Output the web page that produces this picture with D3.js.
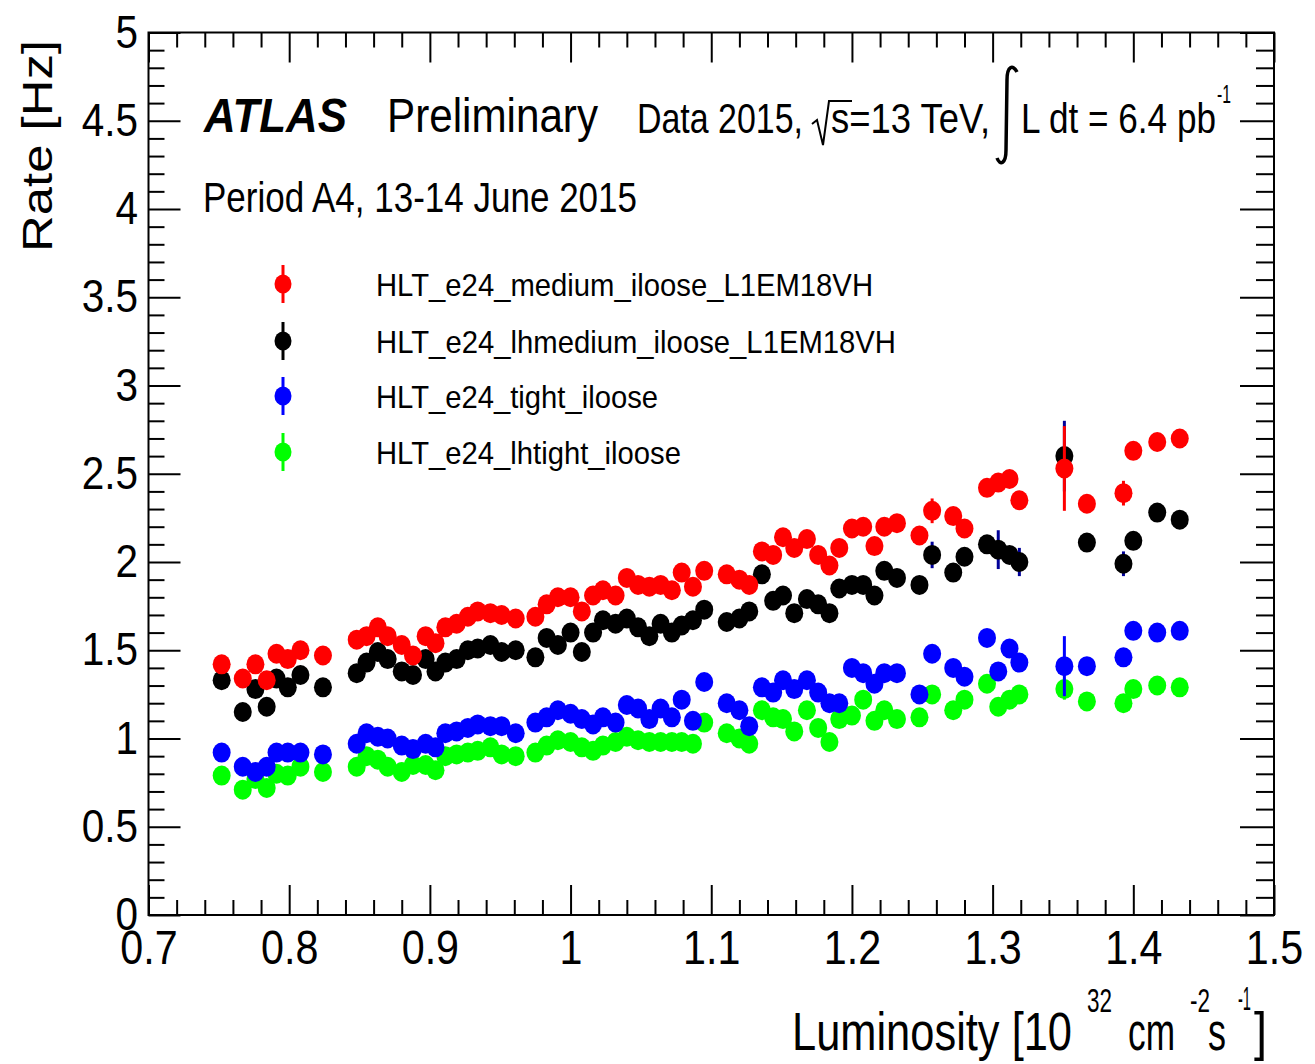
<!DOCTYPE html>
<html>
<head>
<meta charset="utf-8">
<script src="https://cdn.jsdelivr.net/npm/d3@7"></script>
<style>
  body { margin: 0; background: #fff; }
  text { font-family: 'Liberation Sans', Arial, Helvetica, sans-serif; fill: #000; }
</style>
</head>
<body>
<div id="chart"></div>
<script>
// Luminosity bins [10^32 cm^-2 s^-1]
const lumi = [0.752, 0.767, 0.776, 0.784, 0.791, 0.799, 0.808, 0.824,
  0.848, 0.855, 0.863, 0.870, 0.880, 0.888, 0.897, 0.904,
  0.911, 0.919, 0.927, 0.934, 0.943, 0.951, 0.961,
  0.975, 0.983, 0.991, 1.000, 1.008, 1.016, 1.023, 1.032, 1.040, 1.048, 1.056, 1.064, 1.072, 1.079, 1.087, 1.095,
  1.111, 1.120, 1.127, 1.136, 1.144, 1.151, 1.159, 1.168, 1.176, 1.184, 1.191, 1.200, 1.208, 1.216, 1.223, 1.232,
  1.248, 1.257, 1.272, 1.280, 1.296, 1.304, 1.312, 1.319,
  1.351, 1.367, 1.393, 1.400, 1.417, 1.433];

// Rates [Hz]
const rateMedium = [1.42, 1.34, 1.42, 1.33, 1.48, 1.45, 1.50, 1.47,
  1.56, 1.58, 1.63, 1.58, 1.53, 1.47, 1.58, 1.54,
  1.63, 1.65, 1.69, 1.72, 1.71, 1.70, 1.68,
  1.69, 1.76, 1.80, 1.80, 1.72, 1.81, 1.84, 1.81, 1.91, 1.87, 1.86, 1.87, 1.84, 1.94, 1.86, 1.95,
  1.93, 1.90, 1.87, 2.06, 2.04, 2.14, 2.08, 2.13, 2.04, 1.98, 2.08, 2.19, 2.20, 2.09, 2.20, 2.22,
  2.15, 2.29, 2.26, 2.19, 2.42, 2.45, 2.47, 2.35,
  2.53, 2.33, 2.39, 2.63, 2.68, 2.70];
const errMedium = [0.03, 0.03, 0.03, 0.03, 0.03, 0.03, 0.03, 0.03,
  0.03, 0.03, 0.03, 0.03, 0.03, 0.03, 0.03, 0.03,
  0.03, 0.03, 0.03, 0.03, 0.03, 0.03, 0.03,
  0.03, 0.03, 0.03, 0.03, 0.03, 0.03, 0.03, 0.03, 0.03, 0.03, 0.03, 0.03, 0.03, 0.03, 0.03, 0.03,
  0.03, 0.03, 0.03, 0.03, 0.03, 0.03, 0.03, 0.03, 0.03, 0.03, 0.03, 0.03, 0.03, 0.03, 0.03, 0.03,
  0.03, 0.07, 0.04, 0.04, 0.04, 0.04, 0.04, 0.04,
  0.24, 0.05, 0.07, 0.04, 0.04, 0.04];

const rateLhMedium = [1.33, 1.15, 1.28, 1.18, 1.34, 1.29, 1.36, 1.29,
  1.37, 1.43, 1.49, 1.45, 1.38, 1.36, 1.45, 1.38,
  1.43, 1.45, 1.50, 1.51, 1.53, 1.49, 1.50,
  1.46, 1.57, 1.53, 1.60, 1.49, 1.60, 1.67, 1.65, 1.68, 1.63, 1.58, 1.65, 1.60, 1.64, 1.67, 1.73,
  1.66, 1.68, 1.72, 1.93, 1.78, 1.81, 1.71, 1.79, 1.76, 1.71, 1.85, 1.87, 1.87, 1.81, 1.95, 1.91,
  1.87, 2.04, 1.94, 2.03, 2.10, 2.07, 2.04, 2.00,
  2.60, 2.11, 1.99, 2.12, 2.28, 2.24];
const errLhMedium = [0.03, 0.03, 0.03, 0.03, 0.03, 0.03, 0.03, 0.03,
  0.03, 0.03, 0.03, 0.03, 0.03, 0.03, 0.03, 0.03,
  0.03, 0.03, 0.03, 0.03, 0.03, 0.03, 0.03,
  0.03, 0.03, 0.03, 0.03, 0.03, 0.03, 0.03, 0.03, 0.03, 0.03, 0.03, 0.03, 0.03, 0.03, 0.03, 0.03,
  0.03, 0.03, 0.03, 0.03, 0.03, 0.03, 0.03, 0.03, 0.03, 0.03, 0.03, 0.03, 0.03, 0.03, 0.03, 0.03,
  0.03, 0.075, 0.04, 0.04, 0.04, 0.11, 0.04, 0.08,
  0.2, 0.05, 0.07, 0.04, 0.04, 0.04];

const rateTight = [0.92, 0.84, 0.81, 0.84, 0.92, 0.92, 0.92, 0.91,
  0.97, 1.03, 1.01, 1.00, 0.96, 0.94, 0.97, 0.95,
  1.03, 1.04, 1.06, 1.08, 1.07, 1.07, 1.03,
  1.09, 1.12, 1.16, 1.14, 1.11, 1.08, 1.12, 1.09, 1.19, 1.17, 1.11, 1.17, 1.12, 1.22, 1.10, 1.32,
  1.20, 1.16, 1.07, 1.29, 1.26, 1.33, 1.28, 1.33, 1.26, 1.20, 1.20, 1.40, 1.37, 1.31, 1.37, 1.37,
  1.25, 1.48, 1.40, 1.35, 1.57, 1.38, 1.51, 1.43,
  1.41, 1.41, 1.46, 1.61, 1.60, 1.61];
const errTight = [0.03, 0.03, 0.03, 0.03, 0.03, 0.03, 0.03, 0.03,
  0.03, 0.03, 0.03, 0.03, 0.03, 0.03, 0.03, 0.03,
  0.03, 0.03, 0.03, 0.03, 0.03, 0.03, 0.03,
  0.03, 0.03, 0.03, 0.03, 0.03, 0.03, 0.03, 0.03, 0.03, 0.03, 0.03, 0.03, 0.03, 0.03, 0.03, 0.03,
  0.03, 0.03, 0.03, 0.03, 0.03, 0.03, 0.03, 0.03, 0.03, 0.03, 0.03, 0.03, 0.03, 0.03, 0.03, 0.03,
  0.03, 0.04, 0.04, 0.04, 0.04, 0.04, 0.04, 0.04,
  0.17, 0.04, 0.04, 0.04, 0.04, 0.04];

const rateLhTight = [0.79, 0.71, 0.77, 0.72, 0.80, 0.79, 0.84, 0.81,
  0.84, 0.90, 0.88, 0.84, 0.81, 0.85, 0.85, 0.82,
  0.90, 0.91, 0.92, 0.93, 0.95, 0.91, 0.90,
  0.92, 0.96, 0.99, 0.98, 0.95, 0.93, 0.96, 0.98, 1.01, 0.99, 0.98, 0.98, 0.98, 0.98, 0.97, 1.09,
  1.03, 1.00, 0.97, 1.16, 1.12, 1.11, 1.04, 1.16, 1.06, 0.98, 1.11, 1.13, 1.22, 1.10, 1.16, 1.11,
  1.12, 1.25, 1.16, 1.22, 1.31, 1.18, 1.22, 1.25,
  1.28, 1.21, 1.20, 1.28, 1.30, 1.29];
const errLhTight = [0.03, 0.03, 0.03, 0.03, 0.03, 0.03, 0.03, 0.03,
  0.03, 0.03, 0.03, 0.03, 0.03, 0.03, 0.03, 0.03,
  0.03, 0.03, 0.03, 0.03, 0.03, 0.03, 0.03,
  0.03, 0.03, 0.03, 0.03, 0.03, 0.03, 0.03, 0.03, 0.03, 0.03, 0.03, 0.03, 0.03, 0.03, 0.03, 0.03,
  0.03, 0.03, 0.03, 0.03, 0.03, 0.03, 0.03, 0.03, 0.03, 0.03, 0.03, 0.03, 0.03, 0.03, 0.03, 0.03,
  0.03, 0.04, 0.04, 0.04, 0.04, 0.04, 0.04, 0.04,
  0.06, 0.04, 0.04, 0.04, 0.04, 0.04];

const triggerNames = ['HLT_e24_medium_iloose_L1EM18VH', 'HLT_e24_lhmedium_iloose_L1EM18VH',
  'HLT_e24_tight_iloose', 'HLT_e24_lhtight_iloose'];

const xTickValues = [0.7, 0.8, 0.9, 1.0, 1.1, 1.2, 1.3, 1.4, 1.5];
const xTickLabels = ['0.7', '0.8', '0.9', '1', '1.1', '1.2', '1.3', '1.4', '1.5'];
const yTickValues = [0, 0.5, 1, 1.5, 2, 2.5, 3, 3.5, 4, 4.5, 5];
const yTickLabels = ['0', '0.5', '1', '1.5', '2', '2.5', '3', '3.5', '4', '4.5', '5'];

// Series table (legend order)
const series = [
  { name: triggerNames[0], rate: rateMedium, err: errMedium, color: '#ff0000', bar: '#ff0000' },
  { name: triggerNames[1], rate: rateLhMedium, err: errLhMedium, color: '#000000', bar: '#000099' },
  { name: triggerNames[2], rate: rateTight, err: errTight, color: '#0000ff', bar: '#0000ff' },
  { name: triggerNames[3], rate: rateLhTight, err: errLhTight, color: '#00ff00', bar: '#00ff00' },
];
const legendWidths = [497, 520, 282, 305];

const svgWidth = 1315;
const svgHeight = 1064;
const frameLeft = 148.5, frameRight = 1274, frameTop = 32.5, frameBottom = 915;

const svg = d3
  .select('#chart')
  .append('svg')
  .attr('width', svgWidth)
  .attr('height', svgHeight);

const x = d3.scaleLinear().domain([0.7, 1.5]).range([frameLeft, frameRight]);
const y = d3.scaleLinear().domain([0, 5]).range([frameBottom, frameTop]);

// Minor tick positions
const xMinor = d3.range(0.72, 1.5, 0.02).filter((v) => Math.abs(v * 10 - Math.round(v * 10)) > 0.01);
const yMinor = d3.range(0.1, 5, 0.1).filter((v) => Math.abs(v * 2 - Math.round(v * 2)) > 0.01);

// Bottom axis (ticks point inward)
svg.append('g')
  .attr('transform', `translate(0,${frameBottom})`)
  .call(d3.axisBottom(x).tickValues(xMinor).tickSize(-15).tickFormat(''))
  .call((g) => g.select('.domain').remove());

svg.append('g')
  .attr('class', 'x-axis')
  .attr('transform', `translate(0,${frameBottom})`)
  .call(d3.axisBottom(x).tickValues(xTickValues).tickSize(-30).tickPadding(15)
    .tickFormat((d, i) => xTickLabels[i]))
  .call((g) => g.select('.domain').remove());

// Top axis, no labels
svg.append('g')
  .attr('transform', `translate(0,${frameTop})`)
  .call(d3.axisTop(x).tickValues(xMinor).tickSize(-15).tickFormat(''))
  .call((g) => g.select('.domain').remove());
svg.append('g')
  .attr('transform', `translate(0,${frameTop})`)
  .call(d3.axisTop(x).tickValues(xTickValues).tickSize(-30).tickFormat(''))
  .call((g) => g.select('.domain').remove());

// Left axis
svg.append('g')
  .attr('transform', `translate(${frameLeft},0)`)
  .call(d3.axisLeft(y).tickValues(yMinor).tickSize(-16).tickFormat(''))
  .call((g) => g.select('.domain').remove());
svg.append('g')
  .attr('class', 'y-axis')
  .attr('transform', `translate(${frameLeft},0)`)
  .call(d3.axisLeft(y).tickValues(yTickValues).tickSize(-32).tickPadding(12)
    .tickFormat((d, i) => yTickLabels[i]))
  .call((g) => g.select('.domain').remove());

// Right axis, no labels
svg.append('g')
  .attr('transform', `translate(${frameRight},0)`)
  .call(d3.axisRight(y).tickValues(yMinor).tickSize(-18).tickFormat(''))
  .call((g) => g.select('.domain').remove());
svg.append('g')
  .attr('transform', `translate(${frameRight},0)`)
  .call(d3.axisRight(y).tickValues(yTickValues).tickSize(-34).tickFormat(''))
  .call((g) => g.select('.domain').remove());

svg.selectAll('.tick line').attr('stroke', '#000').attr('stroke-width', 2);

svg.select('.x-axis').selectAll('text')
  .style('font-size', '48px')
  .style('font-family', "'Liberation Sans', Arial, sans-serif")
  .attr('fill', '#000')
  .attr('transform', 'scale(0.86,1)');

svg.select('.y-axis').selectAll('text')
  .style('font-size', '46px')
  .style('font-family', "'Liberation Sans', Arial, sans-serif")
  .attr('fill', '#000')
  .attr('transform', 'scale(0.88,1)');

// Frame
svg.append('rect')
  .attr('x', frameLeft)
  .attr('y', frameTop)
  .attr('width', frameRight - frameLeft)
  .attr('height', frameBottom - frameTop)
  .attr('fill', 'none')
  .attr('stroke', '#000')
  .attr('stroke-width', 2);

// Data: error bars then markers, drawn lh-tight first so red ends on top
const drawOrder = [3, 2, 1, 0];
drawOrder.forEach((si) => {
  const s = series[si];
  const pts = lumi.map((l, i) => ({ l: l, v: s.rate[i], e: s.err[i] }));
  const g = svg.append('g');

  g.selectAll('line')
    .data(pts)
    .enter()
    .append('line')
    .attr('x1', (d) => x(d.l))
    .attr('x2', (d) => x(d.l))
    .attr('y1', (d) => y(d.v - d.e))
    .attr('y2', (d) => y(d.v + d.e))
    .attr('stroke', s.bar)
    .attr('stroke-width', 3);

  g.selectAll('ellipse')
    .data(pts)
    .enter()
    .append('ellipse')
    .attr('cx', (d) => x(d.l))
    .attr('cy', (d) => y(d.v))
    .attr('rx', 9)
    .attr('ry', 10)
    .attr('fill', s.color);
});

// Helper for squeezed ROOT-style text
function label(txt, px, py, size, len, weight, italic) {
  return svg.append('text')
    .attr('x', px)
    .attr('y', py)
    .attr('textLength', len)
    .attr('lengthAdjust', 'spacingAndGlyphs')
    .style('font-size', size + 'px')
    .style('font-weight', weight || 'normal')
    .style('font-style', italic ? 'italic' : 'normal')
    .text(txt);
}

// Header
label('ATLAS', 204, 132, 48, 143, 'bold', true);
label('Preliminary', 387, 132, 48, 211);
label('Data 2015,', 637, 133, 42, 166);
svg.append('path')
  .attr('d', 'M812,124 L817,120 L823,145 L829,101 L852,101')
  .attr('fill', 'none')
  .attr('stroke', '#000')
  .attr('stroke-width', 2);
label('s=13 TeV,', 831, 133, 42, 159);
svg.append('path')
  .attr('d', 'M997,158 C1000,166 1006,164 1006,150 L1007,80 C1007,66 1013,64 1017,72')
  .attr('fill', 'none')
  .attr('stroke', '#000')
  .attr('stroke-width', 3.5);
label('L dt = 6.4 pb', 1021, 133, 42, 195);
label('-1', 1217, 103, 26, 14);
label('Period A4, 13-14 June 2015', 203, 212, 42, 434);

// Legend
const legendY = [284, 341, 396, 452];
series.forEach((s, i) => {
  svg.append('line')
    .attr('x1', 283).attr('x2', 283)
    .attr('y1', legendY[i] - 19).attr('y2', legendY[i] + 19)
    .attr('stroke', s.color)
    .attr('stroke-width', 3);
  svg.append('ellipse')
    .attr('cx', 283).attr('cy', legendY[i])
    .attr('rx', 8.5).attr('ry', 9.5)
    .attr('fill', s.color);
  label(s.name, 376, legendY[i] + 12, 32, legendWidths[i]);
});

// Axis titles
svg.append('text')
  .attr('transform', 'translate(52,252) rotate(-90) scale(1,0.86)')
  .attr('textLength', 212)
  .attr('lengthAdjust', 'spacingAndGlyphs')
  .style('font-size', '50px')
  .text('Rate [Hz]');

label('Luminosity [10', 792, 1050, 53, 280);
label('32', 1087, 1012, 34, 25);
label('cm', 1128, 1050, 53, 47);
label('-2', 1190, 1012, 34, 20);
label('s', 1208, 1050, 53, 18);
label('-1', 1238, 1010, 34, 13);
label(']', 1254, 1050, 53, 13);
</script>
</body>
</html>
